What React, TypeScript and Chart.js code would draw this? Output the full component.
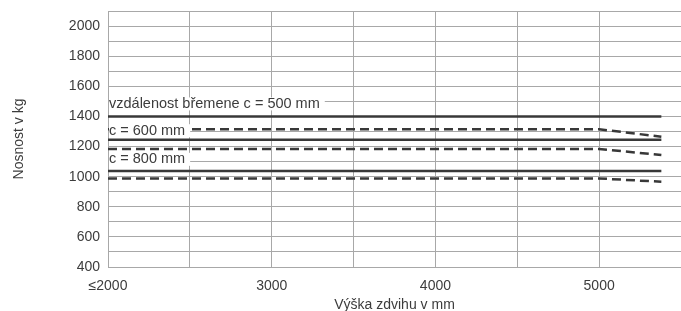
import React, { useEffect, useRef } from "react";
import { Chart, registerables } from "chart.js";

Chart.register(...registerables);

// Lift height (mm) break points
const liftHeights = [2000, 5000, 5380];
// Capacity (kg) for each load-centre distance
const c500Solid = [1400, 1400, 1400];
const c500Dashed = [1315, 1315, 1265];
const c600Solid = [1245, 1245, 1245];
const c600Dashed = [1184, 1184, 1143];
const c800Solid = [1037, 1037, 1037];
const c800Dashed = [988, 988, 966];

const xTickLabels: Record<number, string> = {
  2000: "≤2000",
  3000: "3000",
  4000: "4000",
  5000: "5000",
};
const yLabelStep = 200;

const curveLabels = ["vzdálenost břemene c = 500 mm", "c = 600 mm", "c = 800 mm"];
const curveLabelValues = [1483, 1305, 1115];

const FONT = '"Liberation Sans", Arial, sans-serif';
const TEXT = "#3c3c3c";
const GRID = "#a8a8a8";
const LINE = "#383838";

const toPoints = (ys: number[]) => liftHeights.map((x, i) => ({ x, y: ys[i] }));

const labelPlugin = {
  id: "curveLabels",
  afterDatasetsDraw(chart: any) {
    const { ctx, chartArea, scales } = chart;
    ctx.save();
    ctx.font = `14.5px ${FONT}`;
    ctx.textBaseline = "middle";
    ctx.textAlign = "left";
    curveLabels.forEach((t, i) => {
      const y = scales.y.getPixelForValue(curveLabelValues[i]);
      const x = chartArea.left + 1;
      const w = ctx.measureText(t).width;
      ctx.fillStyle = "#ffffff";
      ctx.fillRect(x, y - 6.5, w + 5, 13);
      ctx.fillStyle = TEXT;
      ctx.fillText(t, x, y);
    });
    ctx.restore();
  },
};

export default function App() {
  const ref = useRef<HTMLCanvasElement | null>(null);

  useEffect(() => {
    document.body.style.margin = "0";
    if (!ref.current) return;
    const solid = (data: number[]) => ({
      data: toPoints(data),
      borderColor: LINE,
      borderWidth: 2.5,
      pointRadius: 0,
      fill: false,
      tension: 0,
    });
    const dashed = (data: number[]) => ({
      ...solid(data),
      borderDash: [9, 5],
    });
    const chart = new Chart(ref.current, {
      type: "line",
      data: {
        datasets: [
          solid(c500Solid),
          dashed(c500Dashed),
          solid(c600Solid),
          dashed(c600Dashed),
          solid(c800Solid),
          dashed(c800Dashed),
        ],
      },
      options: {
        animation: false,
        responsive: true,
        maintainAspectRatio: false,
        devicePixelRatio: 1,
        layout: { padding: { top: 11, right: 0, bottom: 0, left: 0 } },
        plugins: {
          legend: { display: false },
          tooltip: { enabled: false },
        },
        scales: {
          x: {
            type: "linear",
            min: 2000,
            max: 5500,
            afterFit: (s: any) => {
              s.height = 44;
              s.paddingRight = 0;
              s.paddingLeft = 0;
            },
            ticks: {
              stepSize: 500,
              autoSkip: false,
              maxRotation: 0,
              padding: 11,
              color: TEXT,
              font: { family: FONT, size: 14 },
              callback: (v: any) => xTickLabels[v as number] ?? "",
            },
            grid: { color: GRID, lineWidth: 1, drawTicks: false },
            border: { color: GRID, width: 1 },
            title: {
              display: true,
              text: "Výška zdvihu v mm",
              color: TEXT,
              font: { family: FONT, size: 14 },
              padding: { top: 0, bottom: -3 },
            },
          },
          y: {
            type: "linear",
            min: 400,
            max: 2100,
            afterFit: (s: any) => {
              s.width = 108;
              s.paddingTop = 0;
              s.paddingBottom = 0;
            },
            ticks: {
              stepSize: 100,
              autoSkip: false,
              padding: 8,
              color: TEXT,
              font: { family: FONT, size: 14 },
              callback: (v: any) => ((v as number) % yLabelStep === 0 ? String(v) : ""),
            },
            grid: { color: GRID, lineWidth: 1, drawTicks: false },
            border: { color: GRID, width: 1 },
            title: {
              display: true,
              text: "Nosnost v kg",
              color: TEXT,
              font: { family: FONT, size: 14 },
              padding: { top: 11, bottom: 0 },
            },
          },
        },
      },
      plugins: [labelPlugin],
    });
    return () => chart.destroy();
  }, []);

  return (
    <div style={{ position: "relative", width: 681, height: 311 }}>
      <canvas ref={ref} />
    </div>
  );
}
